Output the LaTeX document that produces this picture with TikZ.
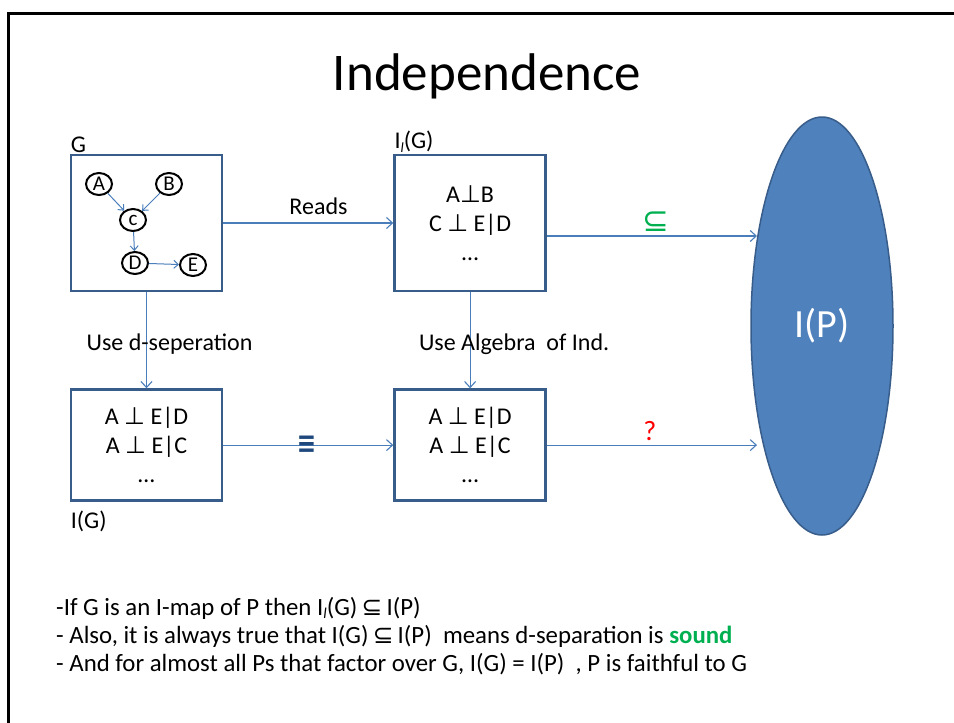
\documentclass[tikz,border=0pt]{standalone}
\usepackage{fontspec}
\setmainfont{Carlito}
\newfontfamily\symfont{DejaVu Sans}
\usetikzlibrary{shapes.geometric,arrows.meta,positioning}
\definecolor{boxline}{HTML}{385D8A}
\definecolor{link}{HTML}{4A7EBB}
\definecolor{pfill}{HTML}{4F81BD}
\definecolor{okgreen}{HTML}{00B050}
\definecolor{eqblue}{HTML}{1F497D}

\begin{document}
\begin{tikzpicture}[
  x=1pt,y=-1pt,
  font=\fontsize{24}{29}\selectfont,
  box/.style={draw=boxline,line width=2.6pt,minimum width=151pt,align=center,inner sep=0pt},
  tallbox/.style={box,minimum height=136pt},
  flatbox/.style={box,minimum height=111pt},
  var/.style={ellipse,draw,line width=2pt,minimum width=26pt,minimum height=22pt,inner sep=0pt,font=\fontsize{21}{21}\selectfont},
  arrow/.style={-{Straight Barb[length=6pt,width=11pt]},draw=link,line width=1.1pt},
  minor/.style={-{Straight Barb[length=4.5pt,width=8pt]},draw=link,line width=1pt},
  tag/.style={inner sep=1pt}
]
\useasboundingbox (0,0) rectangle (954,723);
\draw[line width=3pt] (8.5,800) -- (8.5,13.5) -- (1100,13.5);
\node[font=\fontsize{53}{53}\selectfont] (title) at (487,76) {Independence};

% the four boxes
\node[tallbox] (gbox) at (146.5,223) {};
\node[tallbox,right=170pt of gbox] (ibox) {A{\symfont ⊥}B\\ C {\symfont ⊥} E|D\\ …};
\node[flatbox,below=96pt of gbox] (lbox) {A {\symfont ⊥} E|D\\ A {\symfont ⊥} E|C\\ …};
\node[flatbox,below=96pt of ibox] (rbox) {A {\symfont ⊥} E|D\\ A {\symfont ⊥} E|C\\ …};
\node[ellipse,fill=pfill,draw=boxline,line width=1.5pt,line join=round,minimum width=142pt,minimum height=418pt,
  text=white,font=\fontsize{40}{40}\selectfont] (ip) at (822,326) {I(P)};

\node[tag,anchor=south west] (glabel) at (gbox.north west) {G};
\node[tag,anchor=south west] (ilabel) at (ibox.north west) {I\raisebox{-4pt}{\fontsize{14}{14}\selectfont\itshape l}(G)};
\node[tag,anchor=north west] (lglabel) at ([yshift=-8pt]lbox.south west) {I(G)};

% graph G
\node[var] (a) at (99,184) {A};
\node[var] (b) at (169,184) {B};
\node[var] (c) at (133,220) {c};
\node[var] (d) at (135,263) {D};
\node[var] (e) at (193,265) {E};
\draw[minor] (a) -- (c);
\draw[minor] (b) -- (c);
\draw[minor] (c) -- (d);
\draw[minor] (d) -- (e);

% connectors
\coordinate (hitup) at (757,236);
\coordinate (hitdown) at (757,442);
\draw[arrow] (gbox) -- node[pos=0.56,above=4pt]{Reads} (ibox);
\draw[arrow] (ibox.east |- hitup) -- node[pos=0.52,above=1pt,text=okgreen,font=\fontsize{32}{32}\selectfont\symfont]{⊆} (hitup);
\draw[arrow] (gbox) -- node[pos=0.54,xshift=23pt]{Use d-seperation} (lbox);
\draw[arrow] (ibox) -- node[pos=0.54,xshift=44pt]{Use Algebra\ \ of Ind.} (rbox);
\draw[arrow] (lbox) -- node[pos=0.49,anchor=base,yshift=-8pt,inner sep=0pt,text=eqblue]{\scalebox{1.05}[1.35]{\fontsize{22}{22}\selectfont\symfont\bfseries ≡}} (rbox);
\draw[arrow] (rbox.east) -- node[pos=0.49,above=1pt,text=red,font=\fontsize{28}{28}\selectfont]{?} (rbox.east -| hitdown);

% notes
\node[anchor=north west,align=left,inner sep=0pt,font=\fontsize{24.8}{28}\selectfont] (notes) at (56,597)
  {-If G is an I-map of P then I\raisebox{-3pt}{\fontsize{15}{15}\selectfont\itshape l}(G)\,{\symfont ⊆}\,I(P)\\
   - Also, it is always true that I(G)\,{\symfont ⊆}\,I(P)\ \ means d-separation is \textcolor{okgreen}{\textbf{sound}}\\
   - And for almost all Ps that factor over G, I(G) = I(P)\ \ , P is faithful to G};
\end{tikzpicture}
\end{document}
